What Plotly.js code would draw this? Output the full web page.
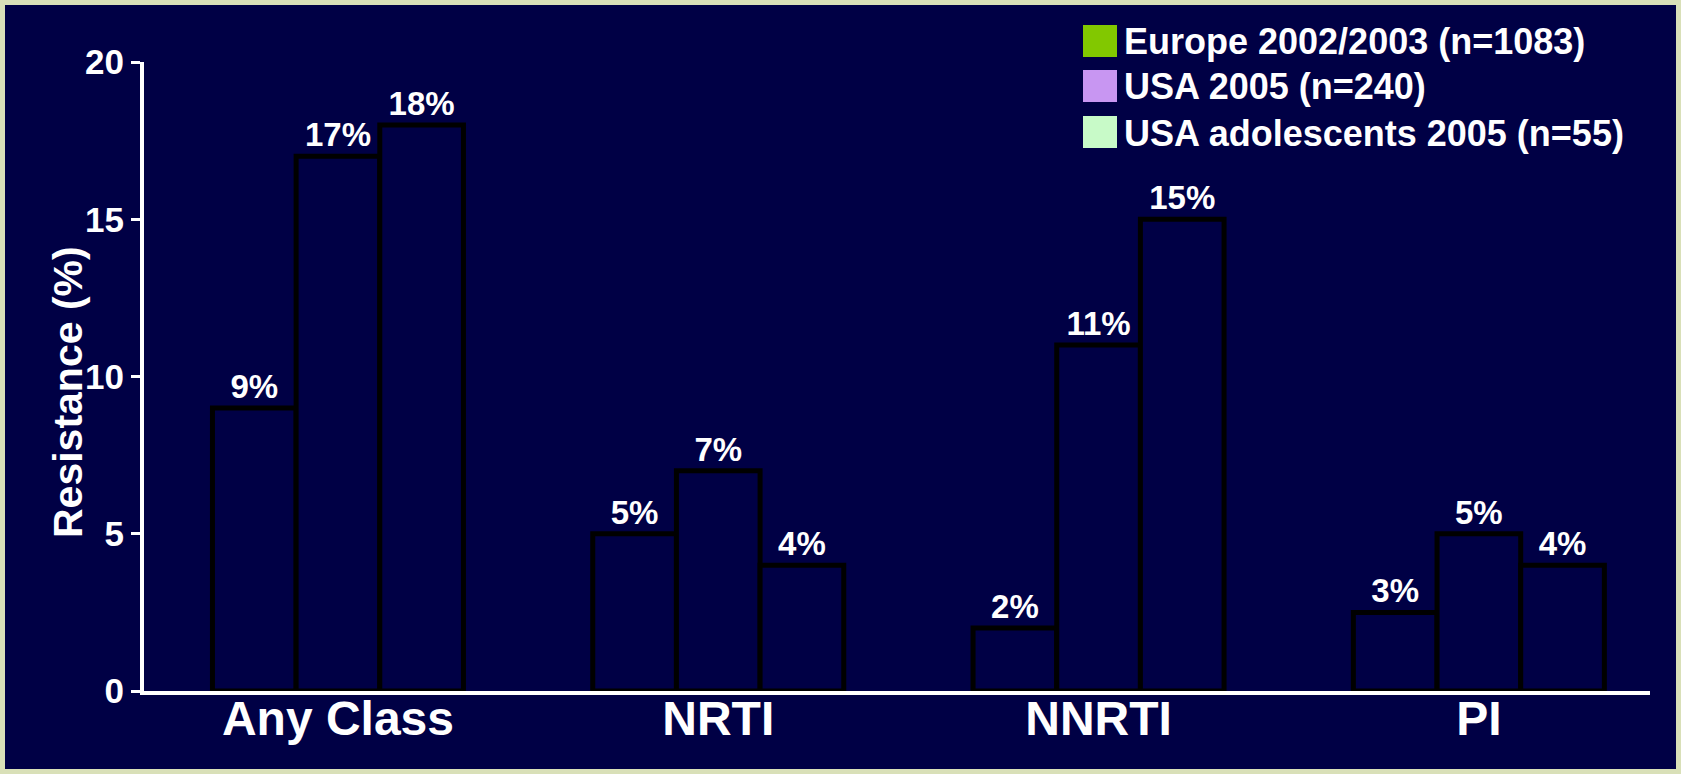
<!DOCTYPE html>
<html>
<head>
<meta charset="utf-8">
<script src="https://cdn.plot.ly/plotly-3.0.1.min.js"></script>
<style>
  html, body { margin: 0; padding: 0; background: #000045; }
  #frame { width: 1681px; height: 774px; box-sizing: border-box; border: 5px solid #d9e0b8; background: #000045; }
  #chart { width: 1671px; height: 764px; }
</style>
</head>
<body>
<div id="frame"><div id="chart"></div></div>
<script>
// ---- data ----
const categories = ["Any Class", "NRTI", "NNRTI", "PI"];
const seriesNames = ["Europe 2002/2003 (n=1083)", "USA 2005 (n=240)", "USA adolescents 2005 (n=55)"];
const europeValues = [9, 5, 2, 2.5];
const usaValues = [17, 7, 11, 5];
const adolescentValues = [18, 4, 15, 4];
const europeLabels = ["9%", "5%", "2%", "3%"];
const usaLabels = ["17%", "7%", "11%", "5%"];
const adolescentLabels = ["18%", "4%", "15%", "4%"];
const yTickVals = [0, 5, 10, 15, 20];
const yTitle = "Resistance (%)";

// ---- styling ----
const navy = "#000045";
const legendColors = ["#82c800", "#c896f2", "#c8fac8"];
const FONT = "Liberation Sans, Arial, sans-serif";

const values = [europeValues, usaValues, adolescentValues];
const labels = [europeLabels, usaLabels, adolescentLabels];

const traces = values.map((v, i) => ({
  type: "bar",
  name: seriesNames[i],
  x: categories,
  y: v,
  text: labels[i],
  texttemplate: "%{text}",
  textposition: "outside",
  constraintext: "none",
  cliponaxis: false,
  textfont: { family: FONT, size: 33, color: "#ffffff", weight: "bold" },
  marker: { color: navy, line: { color: "#000000", width: 5 } },
  showlegend: false,
  hoverinfo: "skip"
}));

// pixel (full-image) -> paper helpers
const PL = 144, PR = 1650, PT = 62, PB = 691;
const fx = px => (px - PL) / (PR - PL);
const fy = py => (PB - py) / (PB - PT);

const shapes = [];
const annotations = [];
const rowY = [41, 86, 132];
seriesNames.forEach((name, i) => {
  shapes.push({
    type: "rect", xref: "paper", yref: "paper",
    x0: fx(1083), x1: fx(1117), y0: fy(rowY[i] + 16), y1: fy(rowY[i] - 16),
    fillcolor: legendColors[i], line: { width: 0 }
  });
  annotations.push({
    xref: "paper", yref: "paper", x: fx(1122), y: fy(rowY[i] + 1),
    xanchor: "left", yanchor: "middle", showarrow: false,
    text: name, font: { family: FONT, size: 36, color: "#ffffff", weight: "bold" }
  });
});
annotations.push({
  xref: "paper", yref: "paper", x: fx(68), y: fy(392),
  xanchor: "center", yanchor: "middle", showarrow: false, textangle: -90,
  text: yTitle, font: { family: FONT, size: 41, color: "#ffffff", weight: "bold" }
});

const layout = {
  width: 1671, height: 764,
  margin: { l: PL - 5, r: 1681 - 5 - PR, t: PT - 5, b: 774 - 5 - PB },
  paper_bgcolor: navy, plot_bgcolor: navy,
  barmode: "group", bargap: 0.34, bargroupgap: 0,
  showlegend: false,
  xaxis: {
    type: "category", range: [-0.51, 3.45],
    showline: true, linecolor: "#ffffff", linewidth: 4,
    ticks: "", showgrid: false, zeroline: false,
    ticklabelstandoff: -18,
    tickfont: { family: FONT, size: 48, color: "#ffffff", weight: "bold" }
  },
  yaxis: {
    range: [0, 20], tickvals: yTickVals,
    showline: true, linecolor: "#ffffff", linewidth: 4,
    ticks: "outside", ticklen: 9, tickwidth: 3, tickcolor: "#ffffff",
    showgrid: false, zeroline: false,
    tickfont: { family: FONT, size: 35, color: "#ffffff", weight: "bold" }
  },
  shapes: shapes,
  annotations: annotations
};

Plotly.newPlot("chart", traces, layout, { displayModeBar: false, staticPlot: true });
</script>
</body>
</html>
